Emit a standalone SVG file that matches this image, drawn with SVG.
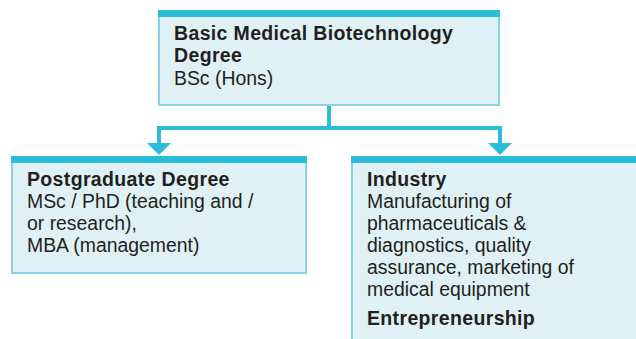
<svg xmlns="http://www.w3.org/2000/svg" width="636" height="339" viewBox="0 0 636 339">
<style>
.box{fill:#dff1f4;stroke:#84d4e3;stroke-width:2}
.bar{fill:#2bbcd8}
.t{font-family:"Liberation Sans",Arial,sans-serif;font-size:19.4px;fill:#231f20}
.b{font-weight:bold;font-size:19.5px;letter-spacing:0.35px}
.conn{fill:none;stroke:#2bbcd8;stroke-width:4}
.ah{fill:#2bbcd8}
</style>
<rect width="636" height="339" fill="#ffffff"/>
<g id="connectors">
<path class="conn" d="M329 105 V128 M159 128 H500 M159 126 V145 M500 126 V145"/>
<polygon class="ah" points="147,143 171,143 159,155"/>
<polygon class="ah" points="488,143 512,143 500,155"/>
</g>
<g id="node-basic">
<rect class="box" x="159" y="11" width="340" height="94"/>
<rect class="bar" x="158" y="10" width="342" height="7"/>
<text class="t b" x="174" y="40">Basic Medical Biotechnology</text>
<text class="t b" x="174" y="62">Degree</text>
<text class="t" x="174" y="85">BSc (Hons)</text>
</g>
<g id="node-postgraduate">
<rect class="box" x="12" y="157" width="294" height="116"/>
<rect class="bar" x="11" y="156" width="296" height="7"/>
<text class="t b" x="27" y="186">Postgraduate Degree</text>
<text class="t" x="27" y="208">MSc / PhD (teaching and /</text>
<text class="t" x="27" y="230">or research),</text>
<text class="t" x="27" y="252">MBA (management)</text>
</g>
<g id="node-industry">
<rect class="box" x="352" y="157" width="290" height="190"/>
<rect class="bar" x="351" y="156" width="290" height="7"/>
<text class="t b" x="367" y="186">Industry</text>
<text class="t" x="367" y="208">Manufacturing of</text>
<text class="t" x="367" y="230">pharmaceuticals &amp;</text>
<text class="t" x="367" y="252">diagnostics, quality</text>
<text class="t" x="367" y="274">assurance, marketing of</text>
<text class="t" x="367" y="296">medical equipment</text>
<text class="t b" x="367" y="325">Entrepreneurship</text>
</g>
</svg>
